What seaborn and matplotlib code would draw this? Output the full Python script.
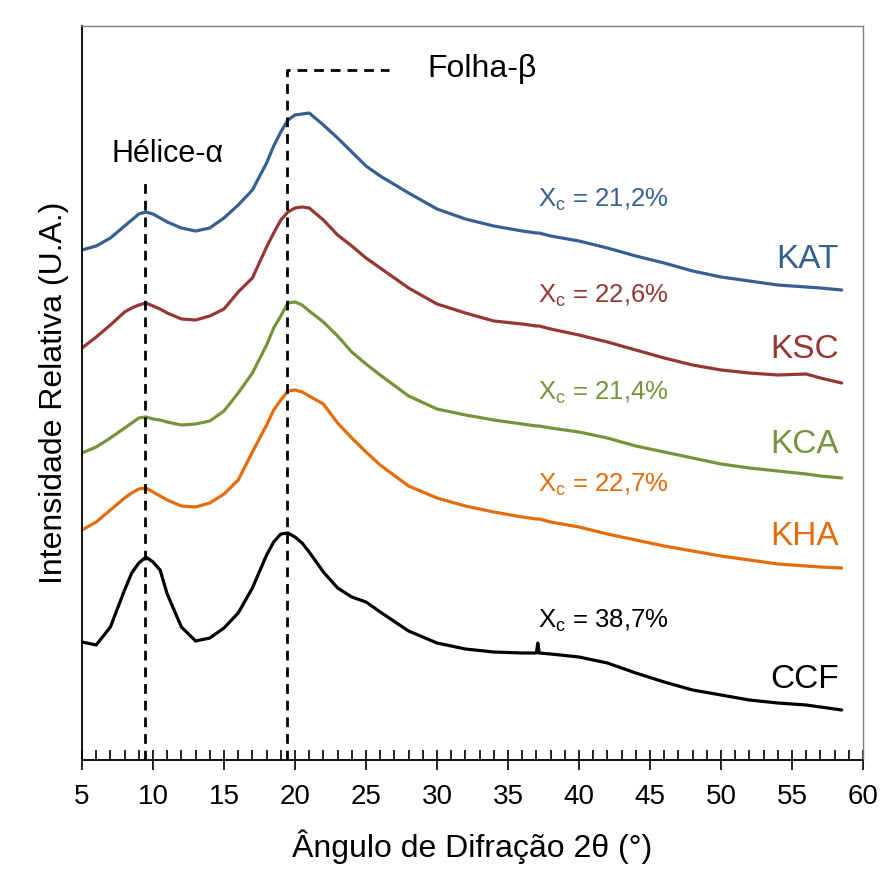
import numpy as np
import pandas as pd
import seaborn as sns
import matplotlib
import matplotlib.pyplot as plt

matplotlib.use("Agg")

# ─── data (arbitrary intensity units) ─────────────────────────────
TWO_THETA = [5, 6, 7, 8, 8.5, 9, 9.5, 10, 10.5, 11, 12, 13, 14, 15, 16, 17,
             18, 18.5, 19, 19.5, 20, 20.5, 21, 22, 23, 24, 25, 26, 28, 30,
             32, 34, 36, 37, 37.1, 37.2, 38, 40, 42, 44, 46, 48, 50, 52, 54,
             56, 57, 58.5]

KAT = [510, 514, 522, 534, 540, 546, 548, 546, 542, 538, 532, 529, 532, 542,
       555, 570, 597, 614, 628, 640, 645, 646, 647, 635, 622, 608, 594, 584,
       567, 551, 541, 534, 529, 527, 527, 527, 524, 519, 512, 504, 497, 489,
       483, 479, 475, 473, 472, 470]
KSC = [412, 423, 435, 448, 452, 455, 457, 454, 451, 447, 441, 440, 444, 451,
       468, 482, 513, 527, 540, 548, 552, 553, 552, 540, 525, 514, 502, 492,
       472, 456, 447, 439, 436, 434, 434, 434, 431, 425, 418, 410, 402, 395,
       390, 387, 385, 386, 382, 377]
KCA = [307, 313, 322, 332, 337, 342, 343, 341, 340, 338, 335, 336, 339, 349,
       367, 387, 415, 432, 444, 457, 458, 455, 449, 438, 424, 408, 396, 385,
       364, 351, 345, 340, 336, 334, 334, 334, 332, 328, 322, 314, 308, 302,
       296, 292, 289, 286, 284, 282]
KHA = [230, 238, 250, 262, 267, 271, 272, 268, 264, 260, 254, 253, 257, 266,
       280, 308, 335, 350, 360, 369, 370, 368, 364, 356, 337, 322, 308, 295,
       274, 262, 254, 248, 243, 241, 241, 241, 238, 233, 226, 220, 214, 209,
       204, 200, 196, 194, 193, 192]
CCF = [118, 115, 133, 170, 187, 197, 203, 198, 190, 166, 133, 119, 122, 132,
       147, 172, 205, 218, 226, 227, 223, 217, 208, 188, 172, 163, 158, 148,
       129, 117, 111, 108, 107, 107, 117, 107, 106, 103, 97, 87, 78, 70, 65,
       60, 57, 55, 53, 50]

SAMPLES = ["KAT", "KSC", "KCA", "KHA", "CCF"]
XC_LABELS = ["21,2%", "22,6%", "21,4%", "22,7%", "38,7%"]
PALETTE = {"KAT": "#376092", "KSC": "#953735", "KCA": "#77933C",
           "KHA": "#E46C0A", "CCF": "#000000"}

# label anchors (data coords)
XC_Y = [553, 457, 360, 268, 132]
NAME_Y = [492, 402, 307, 215, 72]

df = pd.concat([
    pd.DataFrame({"2theta": TWO_THETA, "I": vals, "Amostra": name})
    for name, vals in zip(SAMPLES, [KAT, KSC, KCA, KHA, CCF])
])

# ─── style ────────────────────────────────────────────────────────
sns.set_style("ticks")
plt.rcParams["font.family"] = ["Liberation Sans", "DejaVu Sans"]
plt.rcParams["mathtext.default"] = "regular"
plt.rcParams["text.color"] = "black"
plt.rcParams["axes.labelcolor"] = "black"

fig = plt.figure(figsize=(8.81, 8.72), dpi=100)
ax = fig.add_axes([82 / 881, 112 / 872, 781 / 881, 734 / 872])

sns.lineplot(data=df, x="2theta", y="I", hue="Amostra", hue_order=SAMPLES,
             palette=PALETTE, linewidth=2.3, legend=False, ax=ax)

# reference dashed markers
ax.plot([9.44, 9.44], [0, 577], color="black", lw=2, ls=(0, (3.5, 2.5)))
ax.plot([19.44, 19.44, 26.6], [0, 690, 690], color="black", lw=2,
        ls=(0, (3.5, 2.5)))
ax.text(11.06, 598, "Hélice-α", fontsize=22, ha="center", va="baseline")
ax.text(29.3, 683, "Folha-β", fontsize=23, ha="left", va="baseline")

for name, xc, yx, yn in zip(SAMPLES, XC_LABELS, XC_Y, NAME_Y):
    ax.text(37.1, yx, f"X$_c$ = {xc}", fontsize=18.5, color=PALETTE[name],
            ha="left", va="baseline")
    ax.text(58.3, yn, name, fontsize=24, color=PALETTE[name],
            ha="right", va="baseline")

ax.set_xlim(5, 60)
ax.set_ylim(0, 734)
ax.set_xticks(np.arange(5, 61, 5))
ax.set_xticks(np.arange(5, 61, 1), minor=True)
ax.set_yticks([])
ax.tick_params(axis="x", which="major", direction="inout", length=14,
               width=1.2, labelsize=20, pad=10, colors="black")
ax.tick_params(axis="x", which="minor", direction="in", length=7, width=1.2,
               colors="black")
ax.set_xlabel("Ângulo de Difração 2θ (°)", fontsize=23, labelpad=14)
ax.set_ylabel("Intensidade Relativa (U.A.)", fontsize=23, labelpad=9)

for side in ["left", "bottom"]:
    ax.spines[side].set_color("black")
    ax.spines[side].set_linewidth(1.3)
for side in ["top", "right"]:
    ax.spines[side].set_visible(True)
    ax.spines[side].set_color("#808080")
    ax.spines[side].set_linewidth(1.0)

fig.savefig("out.png", dpi=100)
plt.close(fig)
